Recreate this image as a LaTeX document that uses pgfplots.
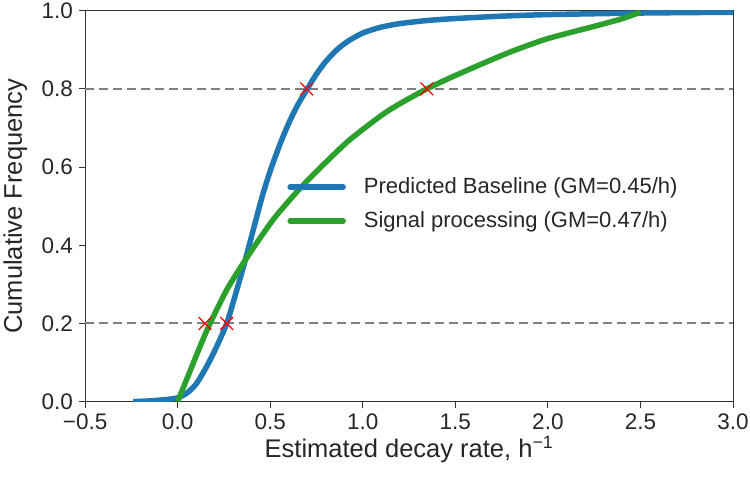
\documentclass[border=0pt]{standalone}
\usepackage{pgfplots}
\pgfplotsset{compat=1.18}
\usepackage{fontspec}
\setmainfont{Liberation Sans}
\definecolor{mplblue}{HTML}{1F77B4}
\definecolor{mplgreen}{HTML}{2CA02C}
\definecolor{dashgray}{HTML}{808080}
\definecolor{spine}{HTML}{333333}
\begin{document}
\begin{tikzpicture}
\begin{axis}[
  scale only axis,
  width=648bp, height=391bp,
  xmin=-0.5, xmax=3.0, ymin=0, ymax=1.0,
  xtick={-0.5,0,0.5,1,1.5,2,2.5,3},
  xticklabels={−0.5,0.0,0.5,1.0,1.5,2.0,2.5,3.0},
  ytick={0,0.2,0.4,0.6,0.8,1.0},
  yticklabels={0.0,0.2,0.4,0.6,0.8,1.0},
  tick align=outside,
  major tick length=6bp,
  tick style={spine, line width=0.9bp},
  axis line style={spine, line width=1bp},
  xtick pos=bottom, ytick pos=left,
  ticklabel style={font=\fontsize{22.5bp}{26bp}\selectfont, text=black!85},
  xticklabel style={inner sep=1bp, yshift=-5bp},
  yticklabel style={inner sep=1bp, xshift=-5bp},
  label style={font=\fontsize{25.5bp}{30bp}\selectfont, text=black!85},
  xlabel style={yshift=-2bp},
  ylabel style={yshift=10bp},
  xlabel={Estimated decay rate, h\textsuperscript{−1}},
  ylabel={Cumulative Frequency},
  legend style={draw=none, fill=none, at={(0.312,0.575)}, anchor=north west,
    font=\fontsize{22bp}{26bp}\selectfont, text=black!85,
    inner sep=0pt, row sep=14bp, column sep=0bp,
    nodes={inner sep=0pt, text height=16bp, text depth=4bp}},
  legend cell align=left,
  legend image code/.code={\draw[#1, line cap=round] (2bp,0bp) -- (55bp,0bp); \path (73bp,0bp);},
  clip=true,
]
\addplot[dashgray, line width=2bp, dash pattern=on 9bp off 5bp, forget plot] coordinates {(-0.5,0.2) (3.0,0.2)};
\addplot[dashgray, line width=2bp, dash pattern=on 9bp off 5bp, forget plot] coordinates {(-0.5,0.8) (3.0,0.8)};
\addplot[mplblue, line width=5.5bp, smooth, tension=0.4] coordinates {
(-0.24,0.000) (-0.15,0.002) (-0.05,0.006) (0.0,0.010) (0.05,0.022) (0.10,0.045)
(0.157,0.09) (0.21,0.14) (0.265,0.20) (0.31,0.27) (0.364,0.36) (0.42,0.46)
(0.46,0.53) (0.50,0.59) (0.55,0.655) (0.60,0.712) (0.65,0.760) (0.70,0.80)
(0.75,0.838) (0.80,0.87) (0.86,0.90) (0.92,0.922) (1.0,0.943) (1.1,0.958)
(1.2,0.967) (1.35,0.975) (1.5,0.980) (1.75,0.986) (2.0,0.990) (2.5,0.994) (3.0,0.996)};
\addlegendentry{Predicted Baseline (GM=0.45/h)}
\addplot[mplgreen, line width=5.5bp, smooth, tension=0.4] coordinates {
(0,0) (0.06,0.07) (0.12,0.14) (0.175,0.20) (0.27,0.29) (0.39,0.38)
(0.52,0.468) (0.66,0.545) (0.80,0.612) (0.93,0.67) (1.1,0.732) (1.2,0.762)
(1.346,0.80) (1.48,0.83) (1.634,0.862) (1.8,0.895) (1.995,0.928) (2.25,0.96)
(2.39,0.978) (2.5,0.996)};
\addlegendentry{Signal processing (GM=0.47/h)}
\addplot[only marks, mark=x, mark size=9bp, red, line width=1.3bp, forget plot] coordinates {
(0.697,0.8) (1.346,0.8) (0.148,0.2) (0.265,0.2)};
\end{axis}
\path ([shift={(-85bp,-76.3bp)}]current axis.south west) rectangle ++(750bp,478bp);
\end{tikzpicture}
\end{document}
